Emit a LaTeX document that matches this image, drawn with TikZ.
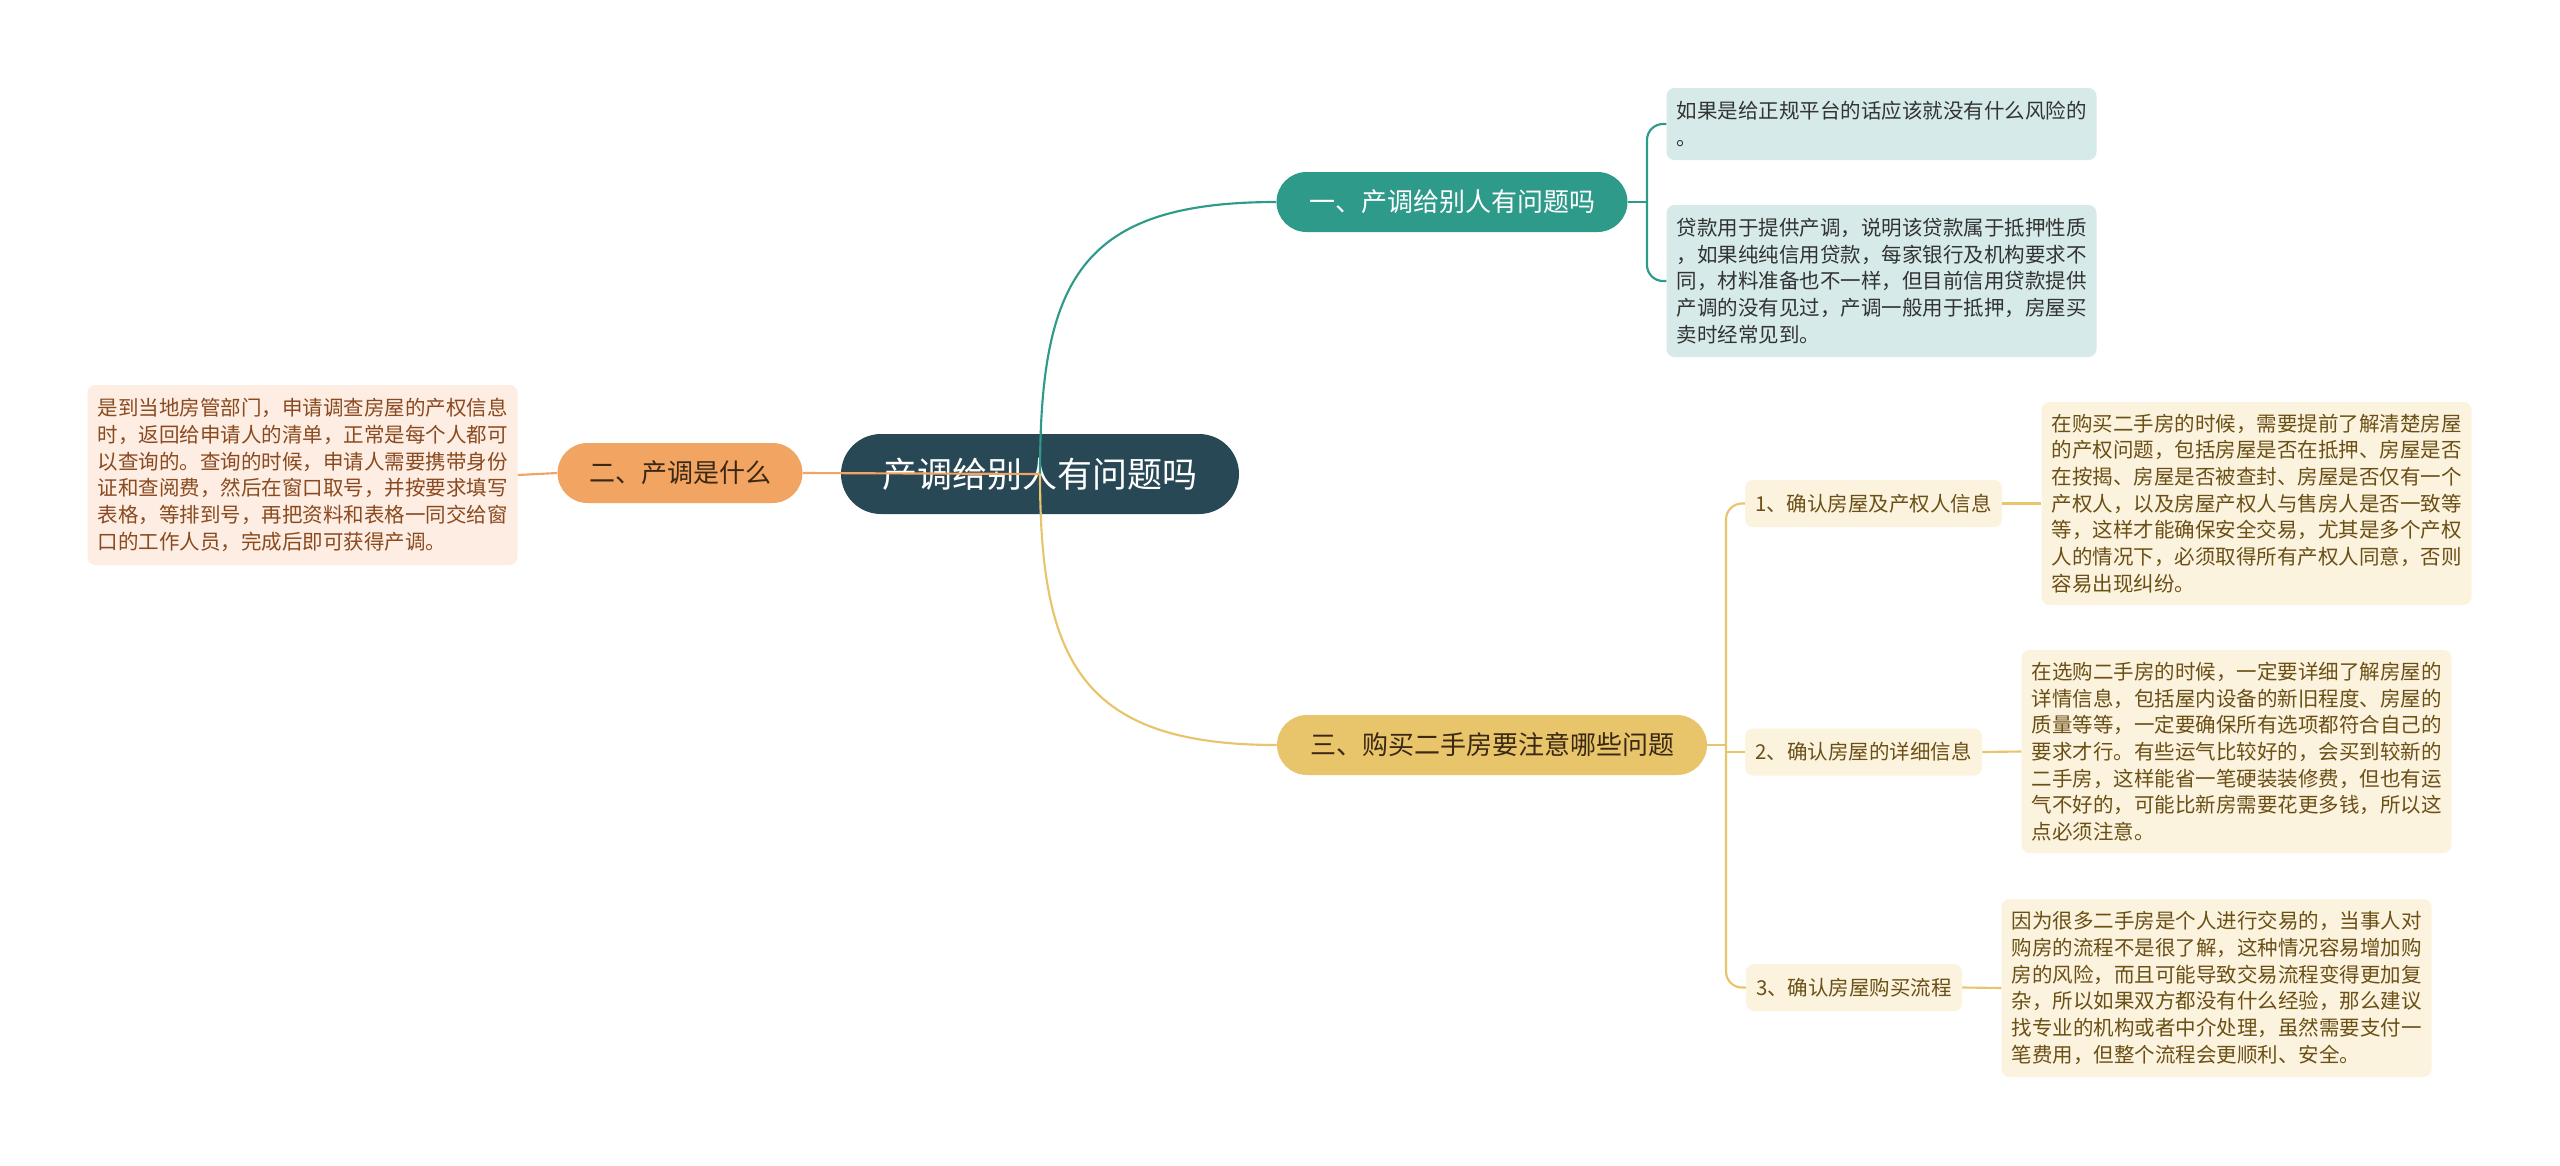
\documentclass[tikz,border=0pt]{standalone}
\usepackage{fontspec}
\newfontfamily\cjk{Noto Sans CJK SC}
\definecolor{rootc}{HTML}{284856}
\definecolor{tealc}{HTML}{2E9A89}
\definecolor{tealleaf}{HTML}{D6EBE9}
\definecolor{orangec}{HTML}{F2A462}
\definecolor{orangeleaf}{HTML}{FDEDE2}
\definecolor{orangetext}{HTML}{8A4A20}
\definecolor{yellowc}{HTML}{E8C46A}
\definecolor{creamc}{HTML}{FCF3DF}
\definecolor{creamtext}{HTML}{6B5016}
\definecolor{darktext}{HTML}{3A2814}
\tikzset{
  rootbox/.style={fill=rootc, text=white, rounded corners=30pt, minimum width=298.5pt,
    minimum height=60pt, inner sep=0pt, font=\cjk\fontsize{26.25pt}{30pt}\selectfont},
  branchbox/.style={rounded corners=22.5pt, minimum height=45pt, inner sep=0pt,
    font=\cjk\fontsize{19.5pt}{24pt}\selectfont},
  subbox/.style={fill=creamc, text=creamtext, rounded corners=6pt, minimum height=35.25pt,
    inner sep=0pt, font=\cjk\fontsize{15.375pt}{20pt}\selectfont},
  leafbox/.style={rounded corners=6pt, minimum width=321.75pt, inner xsep=7.5pt, inner ysep=0pt,
    align=left, font=\cjk\fontsize{15.375pt}{20pt}\selectfont},
  tline/.style={draw=tealc, line width=1.6pt},
  oline/.style={draw=orangec, line width=1.6pt},
  yline/.style={draw=yellowc, line width=1.6pt},
}
\begin{document}
\begin{tikzpicture}[x=0.75pt, y=-0.75pt]
\fill[white] (0,0) rectangle (2560,1165);
\useasboundingbox (0,0) rectangle (2560,1165);

% root
\node[rootbox] (root) at (1040,474) {产调给别人有问题吗};

% branches
\node[branchbox, fill=tealc, text=white, minimum width=263.25pt] (b1) at (1452,202) {一、产调给别人有问题吗};
\node[branchbox, fill=orangec, text=darktext, minimum width=183.75pt] (b2) at (680,473) {二、产调是什么};
\node[branchbox, fill=yellowc, text=darktext, minimum width=322.5pt] (b3) at (1492,745) {三、购买二手房要注意哪些问题};

% teal leaves
\node[leafbox, fill=tealleaf, text=black!80, minimum height=54pt] (la) at (1881.5,124)
  {如果是给正规平台的话应该就没有什么风险的\\。};
\node[leafbox, fill=tealleaf, text=black!80, minimum height=114pt] (lb) at (1881.5,281)
  {贷款用于提供产调，说明该贷款属于抵押性质\\，如果纯纯信用贷款，每家银行及机构要求不\\同，材料准备也不一样，但目前信用贷款提供\\产调的没有见过，产调一般用于抵押，房屋买\\卖时经常见到。};

% orange leaf
\node[leafbox, fill=orangeleaf, text=orangetext, minimum height=135pt] (lc) at (302.5,475)
  {是到当地房管部门，申请调查房屋的产权信息\\时，返回给申请人的清单，正常是每个人都可\\以查询的。查询的时候，申请人需要携带身份\\证和查阅费，然后在窗口取号，并按要求填写\\表格，等排到号，再把资料和表格一同交给窗\\口的工作人员，完成后即可获得产调。};

% yellow sub branches
\node[subbox, minimum width=192.75pt] (s1) at (1873.5,503.5) {1、确认房屋及产权人信息};
\node[subbox, minimum width=177.75pt] (s2) at (1863.5,752) {2、确认房屋的详细信息};
\node[subbox, minimum width=162pt] (s3) at (1854,987.5) {3、确认房屋购买流程};

% yellow leaves
\node[leafbox, fill=creamc, text=creamtext, minimum height=152.25pt] (l1) at (2256.5,503.5)
  {在购买二手房的时候，需要提前了解清楚房屋\\的产权问题，包括房屋是否在抵押、房屋是否\\在按揭、房屋是否被查封、房屋是否仅有一个\\产权人，以及房屋产权人与售房人是否一致等\\等，这样才能确保安全交易，尤其是多个产权\\人的情况下，必须取得所有产权人同意，否则\\容易出现纠纷。};
\node[leafbox, fill=creamc, text=creamtext, minimum height=152.25pt] (l2) at (2236.5,751.5)
  {在选购二手房的时候，一定要详细了解房屋的\\详情信息，包括屋内设备的新旧程度、房屋的\\质量等等，一定要确保所有选项都符合自己的\\要求才行。有些运气比较好的，会买到较新的\\二手房，这样能省一笔硬装装修费，但也有运\\气不好的，可能比新房需要花更多钱，所以这\\点必须注意。};
\node[leafbox, fill=creamc, text=creamtext, minimum height=133.5pt] (l3) at (2216.5,988)
  {因为很多二手房是个人进行交易的，当事人对\\购房的流程不是很了解，这种情况容易增加购\\房的风险，而且可能导致交易流程变得更加复\\杂，所以如果双方都没有什么经验，那么建议\\找专业的机构或者中介处理，虽然需要支付一\\笔费用，但整个流程会更顺利、安全。};

% coordinates for brackets
\coordinate (tj) at (1647,202);
\coordinate (ta) at (1647,124);
\coordinate (tb) at (1647,281);
\coordinate (yj) at (1726,745);
\coordinate (y1) at (1726,503.5);
\coordinate (y2) at (1726,752);
\coordinate (y3) at (1726,987.5);

% connectors from root (drawn over root)
\draw[tline] (root.center) .. controls (1040,280) and (1080,202) .. (b1.west);
\draw[yline] (root.center) .. controls (1040,660) and (1080,745) .. (b3.west);
\draw[oline] (root.center) -- (b2.east);
\draw[oline] (b2.west) -- (lc.east);

% teal bracket
\draw[tline] (b1.east) -- (tj);
\draw[tline, rounded corners=12pt] (la.west) -- (ta) -- (tb) -- (lb.west);

% yellow bracket
\draw[yline] (b3.east) -- (yj);
\draw[yline, rounded corners=12pt] (s1.west) -- (y1) -- (y3) -- (s3.west);
\draw[yline] (y2) -- (s2.west);
\draw[yline] (s1.east) -- (l1.west);
\draw[yline] (s2.east) -- (l2.west);
\draw[yline] (s3.east) -- (l3.west);
\end{tikzpicture}
\end{document}
